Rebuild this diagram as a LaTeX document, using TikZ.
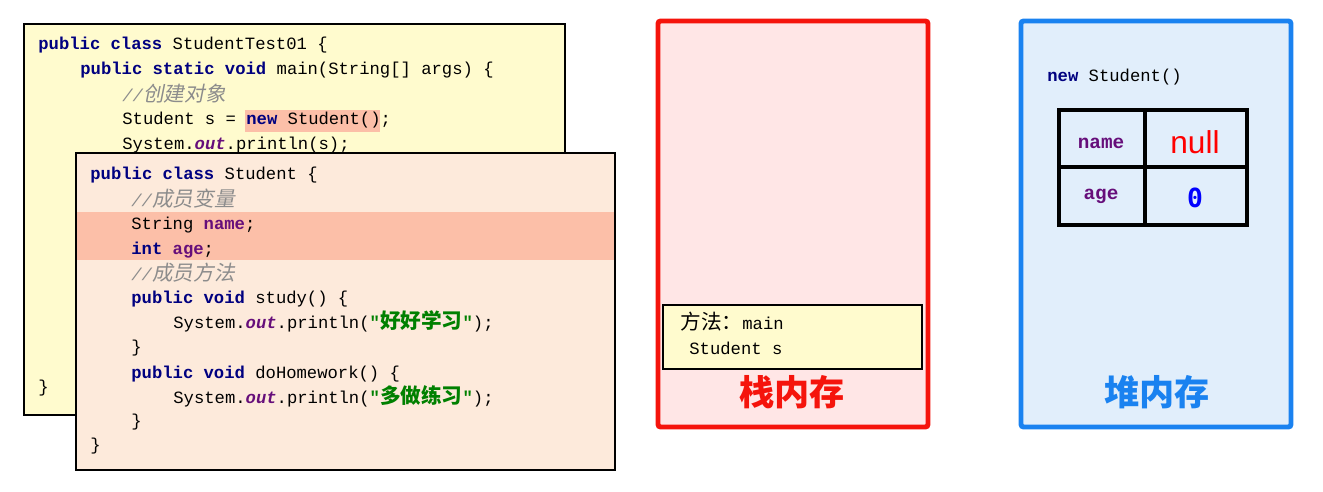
\documentclass[tikz,border=0pt]{standalone}
\usepackage{fontspec}
\newfontfamily\code{Liberation Mono}
\newfontfamily\cjk[Scale=1.2]{Noto Sans CJK SC}
\newfontfamily\cjkit[Scale=1.2,FakeSlant=0.2]{Noto Sans CJK SC}
\newfontfamily\cjkbig{Noto Sans CJK SC}
\newfontfamily\sans{Liberation Sans}
\newfontfamily\zero{DejaVu Sans Mono}
\definecolor{kwblue}{HTML}{000080}
\definecolor{fldpurple}{HTML}{660E7A}
\definecolor{cmtgray}{HTML}{8C8C8C}
\definecolor{strgreen}{HTML}{008000}
\definecolor{codeyellow}{HTML}{FFFBCE}
\definecolor{codepeach}{HTML}{FDEADB}
\definecolor{hlsalmon}{HTML}{FCBFA8}
\definecolor{stackfill}{HTML}{FFE6E6}
\definecolor{stackred}{HTML}{F5140C}
\definecolor{heapfill}{HTML}{E1EEFB}
\definecolor{heapblue}{HTML}{1A82F0}
\newcommand\kw[1]{{\bfseries\color{kwblue}#1}}
\newcommand\fld[1]{{\bfseries\color{fldpurple}#1}}
\newcommand\outf{{\bfseries\itshape\color{fldpurple}out}}
\newcommand\cmt[1]{{\color{cmtgray}\itshape//{\cjkit #1}}}
\newcommand\str[1]{{\bfseries\color{strgreen}"{\cjk\bfseries #1}"}}

\begin{document}
\begin{tikzpicture}[x=0.02cm,y=-0.02cm,
	codeline/.style={anchor=west,inner sep=0pt,text height=7pt,text depth=2pt,
		font=\code\fontsize{9.8}{12}\selectfont},
	codebox/.style={draw=black,line width=1.2pt},
	memlabel/.style={font=\cjkbig\bfseries\fontsize{20}{24}\selectfont}]
	\useasboundingbox (0,0) rectangle (1323,492);

	%class StudentTest01
	\draw[codebox,fill=codeyellow] (24,24) rectangle (565,415);
	\fill[hlsalmon] (245,110) rectangle (380,132);		%new Student()
	\node[codeline] (a1) at (38,45) {\kw{public class} StudentTest01 \{};
	\node[codeline] (a2) at (80,70) {\kw{public static void} main(String[] args) \{};
	\node[codeline] (a3) at (122,97) {\cmt{创建对象}};
	\node[codeline] (a4) at (122,120) {Student s = \kw{new} Student();};
	\node[codeline] (a5) at (122,145) {System.\outf.println(s);};
	\node[codeline] (a6) at (38,388) {\}};

	%class Student (on top)
	\draw[codebox,fill=codepeach] (76,153) rectangle (615,470);
	\fill[hlsalmon] (77,212) rectangle (614,260);		%member variables
	\node[codeline] (b1) at (90,175) {\kw{public class} Student \{};
	\node[codeline] (b2) at (131,202) {\cmt{成员变量}};
	\node[codeline] (b3) at (131,225) {String \fld{name};};
	\node[codeline] (b4) at (131,250) {\kw{int} \fld{age};};
	\node[codeline] (b5) at (131,276) {\cmt{成员方法}};
	\node[codeline] (b6) at (131,299) {\kw{public void} study() \{};
	\node[codeline] (b7) at (173,324) {System.\outf.println(\str{好好学习});};
	\node[codeline] (b8) at (131,348) {\}};
	\node[codeline] (b9) at (131,374) {\kw{public void} doHomework() \{};
	\node[codeline] (b10) at (173,399) {System.\outf.println(\str{多做练习});};
	\node[codeline] (b11) at (131,422) {\}};
	\node[codeline] (b12) at (90,446) {\}};

	%stack
	\draw[draw=stackred,line width=2.8pt,fill=stackfill,rounded corners=1.5pt] (658,21) rectangle (928,427);
	\draw[draw=black,line width=1.1pt,fill=codeyellow] (663,305) rectangle (922,369);
	\node[codeline] (m1) at (680,325) {{\cjk 方法：}main};
	\node[codeline] (m2) at (689,350) {Student s};
	\node[memlabel,text=stackred] (stk) at (792,392) {栈内存};

	%heap
	\draw[draw=heapblue,line width=2.8pt,fill=heapfill,rounded corners=1.5pt] (1021,21) rectangle (1291,427);
	\node[codeline] (h1) at (1047,77) {\kw{new} Student()};
	\draw[line width=2.4pt] (1059,110) rectangle (1247,225);
	\draw[line width=2.4pt] (1145,110) -- (1145,225);
	\draw[line width=2.4pt] (1059,167) -- (1247,167);
	\node[font=\code\bfseries\fontsize{11}{13}\selectfont,text=fldpurple] (fn) at (1101,143) {name};
	\node[font=\code\bfseries\fontsize{11}{13}\selectfont,text=fldpurple] (fa) at (1101,196) {age};
	\node[font=\sans\fontsize{18}{20}\selectfont,text=red] (vn) at (1195,142) {null};
	\node[font=\zero\bfseries\fontsize{15}{18}\selectfont,text=blue] (va) at (1195,198) {0};
	\node[memlabel,text=heapblue] (hp) at (1157,392) {堆内存};
\end{tikzpicture}
\end{document}
